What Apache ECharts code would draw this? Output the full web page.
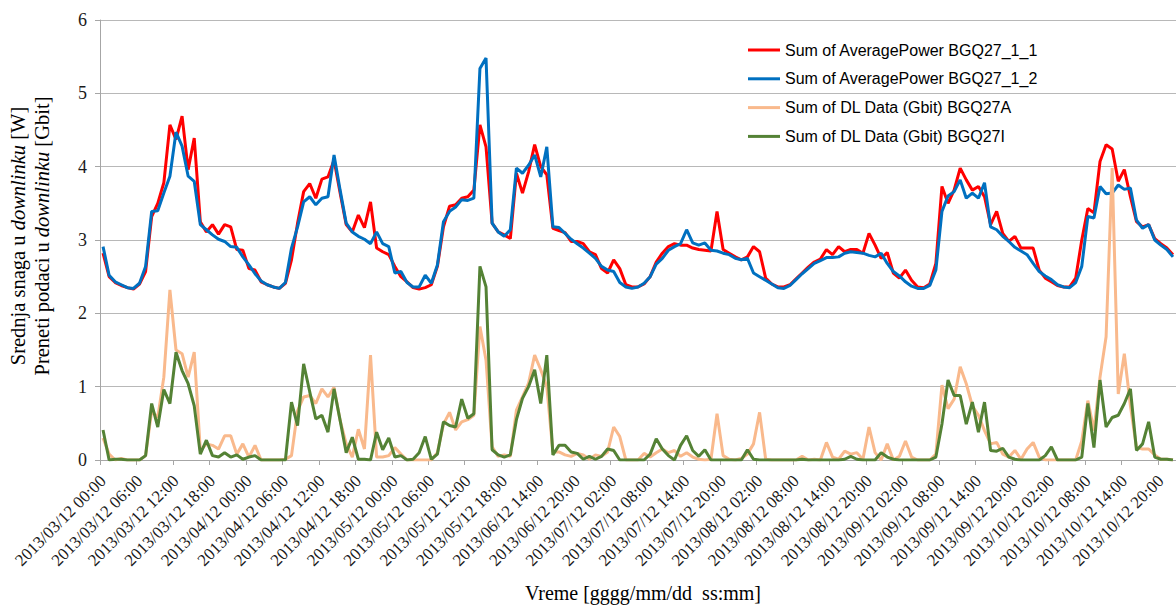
<!DOCTYPE html>
<html>
<head>
<meta charset="utf-8">
<script src="https://cdn.jsdelivr.net/npm/echarts@6/dist/echarts.min.js"></script>
<style>
html,body{margin:0;padding:0;background:#fff;}
#c{width:1176px;height:606px;}
</style>
</head>
<body>
<div id="c"></div>
<script>
// Category segments (hourly timestamps; data gap between 05/12 18:00 and 06/12 09:00)
const catSegments = [
  { year: 2013, day: 3, month: 12, hour: 0, count: 67 },
  { year: 2013, day: 6, month: 12, hour: 9, count: 110 }
];
function pad(n){ return (n < 10 ? '0' : '') + n; }
const categories = [];
catSegments.forEach(function(s){
  let d = s.day, h = s.hour;
  for (let k = 0; k < s.count; k++) {
    categories.push(s.year + '/' + pad(d) + '/' + s.month + ' ' + pad(h) + ':00');
    h++; if (h === 24) { h = 0; d++; }
  }
});

const yTicks = [0, 1, 2, 3, 4, 5, 6];

const power_1_1 = [
2.82,2.50,2.42,2.38,2.35,2.33,2.40,2.57,3.32,3.50,3.78,4.57,4.37,4.69,3.96,4.39,3.25,3.11,3.21,3.08,
3.21,3.18,2.87,2.86,2.61,2.59,2.43,2.39,2.36,2.34,2.41,2.73,3.23,3.66,3.77,3.57,3.83,3.86,4.09,3.64,
3.21,3.11,3.34,3.17,3.52,2.89,2.84,2.80,2.64,2.50,2.43,2.35,2.33,2.35,2.39,2.64,3.18,3.46,3.48,3.57,
3.59,3.68,4.57,4.27,3.23,3.11,3.07,3.02,3.91,3.64,3.93,4.30,4.00,3.89,3.16,3.13,3.10,2.98,2.98,2.95,
2.84,2.80,2.61,2.55,2.73,2.61,2.39,2.36,2.36,2.40,2.50,2.70,2.82,2.91,2.95,2.93,2.93,2.89,2.87,2.86,
2.85,3.39,2.87,2.82,2.77,2.73,2.77,2.91,2.84,2.48,2.40,2.36,2.36,2.39,2.47,2.55,2.63,2.70,2.74,2.87,
2.80,2.91,2.84,2.87,2.87,2.82,3.09,2.93,2.75,2.83,2.55,2.48,2.59,2.45,2.36,2.35,2.40,2.68,3.73,3.50,
3.68,3.98,3.82,3.68,3.73,3.59,3.21,3.39,3.09,2.98,3.05,2.89,2.89,2.89,2.59,2.48,2.43,2.38,2.36,2.36,
2.48,3.00,3.43,3.37,4.07,4.30,4.24,3.80,3.96,3.59,3.25,3.18,3.21,3.02,2.95,2.89,2.80
];

const power_1_2 = [
2.91,2.52,2.43,2.39,2.35,2.34,2.41,2.64,3.39,3.40,3.64,3.87,4.47,4.28,3.87,3.80,3.21,3.14,3.07,3.01,
2.98,2.91,2.90,2.77,2.66,2.54,2.44,2.39,2.36,2.34,2.42,2.89,3.18,3.52,3.59,3.48,3.57,3.59,4.16,3.68,
3.23,3.11,3.05,3.01,2.95,3.11,2.95,2.91,2.55,2.57,2.42,2.36,2.36,2.52,2.41,2.66,3.25,3.39,3.45,3.55,
3.54,3.57,5.34,5.48,3.23,3.11,3.05,3.14,3.98,3.91,4.02,4.16,3.86,4.27,3.18,3.17,3.09,3.01,2.95,2.89,
2.82,2.75,2.64,2.59,2.57,2.42,2.36,2.34,2.36,2.41,2.50,2.67,2.75,2.86,2.91,2.95,3.14,2.96,2.93,2.96,
2.86,2.85,2.82,2.80,2.75,2.73,2.75,2.55,2.50,2.45,2.40,2.35,2.34,2.38,2.46,2.54,2.61,2.68,2.72,2.76,
2.76,2.77,2.82,2.84,2.83,2.82,2.79,2.77,2.82,2.68,2.57,2.51,2.43,2.37,2.34,2.34,2.38,2.59,3.39,3.60,
3.66,3.82,3.57,3.64,3.57,3.78,3.18,3.14,3.05,2.98,2.90,2.85,2.80,2.68,2.57,2.51,2.46,2.39,2.36,2.35,
2.42,2.64,3.32,3.30,3.73,3.63,3.64,3.75,3.69,3.71,3.27,3.16,3.21,3.00,2.93,2.87,2.77
];

const dl_27A = [
0.30,0.08,0.00,0.02,0.00,0.00,0.00,0.06,0.67,0.58,1.13,2.32,1.50,1.45,1.13,1.47,0.13,0.22,0.20,0.15,
0.33,0.33,0.08,0.22,0.04,0.20,0.00,0.00,0.00,0.00,0.01,0.06,0.67,0.86,0.88,0.77,0.97,0.86,0.99,0.54,
0.22,0.04,0.42,0.15,1.43,0.04,0.04,0.06,0.17,0.08,0.00,0.00,0.00,0.00,0.00,0.10,0.49,0.65,0.41,0.52,
0.55,0.61,1.82,1.36,0.18,0.05,0.07,0.05,0.68,0.86,1.05,1.43,1.23,1.00,0.11,0.11,0.07,0.05,0.09,0.07,
0.01,0.07,0.05,0.11,0.45,0.32,0.00,0.00,0.00,0.09,0.04,0.10,0.15,0.10,0.13,0.05,0.10,0.04,0.01,0.00,
0.01,0.63,0.06,0.01,0.00,0.02,0.08,0.22,0.65,0.01,0.00,0.00,0.00,0.00,0.00,0.05,0.00,0.01,0.00,0.24,
0.04,0.01,0.12,0.08,0.10,0.01,0.45,0.10,0.00,0.22,0.00,0.05,0.26,0.04,0.00,0.00,0.00,0.08,1.02,0.70,
0.83,1.27,1.04,0.74,0.61,0.40,0.22,0.24,0.08,0.04,0.13,0.01,0.15,0.24,0.04,0.00,0.00,0.00,0.00,0.00,
0.00,0.26,0.81,0.40,1.13,1.68,3.98,0.90,1.45,0.74,0.17,0.15,0.15,0.07,0.01,0.01,0.00
];

const dl_27I = [
0.41,0.00,0.01,0.01,0.00,0.00,0.00,0.06,0.77,0.45,0.96,0.77,1.47,1.22,1.04,0.74,0.08,0.27,0.06,0.04,
0.10,0.04,0.07,0.01,0.04,0.06,0.00,0.00,0.00,0.00,0.00,0.79,0.47,1.31,0.93,0.56,0.61,0.38,0.97,0.54,
0.10,0.31,0.01,0.01,0.00,0.38,0.14,0.30,0.04,0.06,0.00,0.01,0.10,0.32,0.01,0.08,0.52,0.47,0.45,0.83,
0.57,0.63,2.64,2.36,0.14,0.07,0.04,0.07,0.55,0.84,1.00,1.23,0.77,1.43,0.07,0.20,0.20,0.11,0.09,0.01,
0.05,0.01,0.05,0.15,0.13,0.00,0.00,0.00,0.00,0.00,0.08,0.29,0.15,0.06,0.00,0.20,0.33,0.13,0.05,0.14,
0.00,0.00,0.00,0.00,0.00,0.00,0.14,0.01,0.00,0.00,0.00,0.00,0.00,0.00,0.00,0.01,0.00,0.00,0.00,0.00,
0.00,0.00,0.01,0.05,0.01,0.00,0.00,0.00,0.10,0.04,0.01,0.00,0.00,0.00,0.00,0.00,0.00,0.04,0.49,1.09,
0.88,0.88,0.49,0.79,0.38,0.79,0.13,0.12,0.16,0.04,0.01,0.00,0.00,0.00,0.00,0.06,0.18,0.00,0.00,0.00,
0.00,0.04,0.77,0.17,1.09,0.45,0.58,0.61,0.77,0.97,0.13,0.22,0.52,0.04,0.01,0.01,0.00
];

const seriesNames = [
  'Sum of AveragePower BGQ27_1_1',
  'Sum of AveragePower BGQ27_1_2',
  'Sum of DL Data (Gbit) BGQ27A',
  'Sum of DL Data (Gbit) BGQ27I'
];
const seriesColors = ['#ff0000', '#0070c0', '#f9b98c', '#548235'];
const seriesData = [power_1_1, power_1_2, dl_27A, dl_27I];

const chart = echarts.init(document.getElementById('c'), null, { renderer: 'svg' });
const serif = '"Liberation Serif", "Times New Roman", serif';
const sans = '"Liberation Sans", Arial, sans-serif';

chart.setOption({
  backgroundColor: '#ffffff',
  animation: false,
  grid: { left: 100, top: 20, width: 1076, bottom: 146, containLabel: false },
  legend: {
    orient: 'vertical',
    left: 748,
    top: 42,
    padding: 0,
    itemWidth: 32,
    itemHeight: 3,
    itemGap: 12.8,
    icon: 'rect',
    textStyle: { fontFamily: sans, fontSize: 16, color: '#000', lineHeight: 16 },
    data: seriesNames
  },
  xAxis: {
    type: 'category',
    data: categories,
    boundaryGap: true,
    axisLine: { show: true, lineStyle: { color: '#a6a6a6', width: 1 } },
    axisTick: { show: true, interval: 5, length: 5, lineStyle: { color: '#a6a6a6' } },
    axisLabel: { interval: 5, rotate: 45, margin: 18, fontFamily: serif, fontSize: 17, color: '#1a1a1a' },
    splitLine: { show: false }
  },
  yAxis: {
    type: 'value',
    min: yTicks[0],
    max: yTicks[yTicks.length - 1],
    interval: 1,
    axisLine: { show: true, lineStyle: { color: '#a6a6a6', width: 1 } },
    axisTick: { show: true, length: 5, lineStyle: { color: '#a6a6a6' } },
    axisLabel: { margin: 13, fontFamily: serif, fontSize: 18, color: '#1a1a1a' },
    splitLine: { show: true, lineStyle: { color: '#b8b8b8', width: 1.2 } }
  },
  graphic: [
    {
      type: 'text',
      x: 30, y: 236,
      rotation: Math.PI / 2,
      style: {
        text: '{a|Srednja snaga u }{i|downlinku}{a| [W]}\n{a|Preneti podaci u }{i|downlinku}{a| [Gbit]}',
        align: 'center',
        verticalAlign: 'middle',
        rich: {
          a: { fontFamily: serif, fontSize: 20.5, lineHeight: 24, fill: '#000' },
          i: { fontFamily: serif, fontSize: 20.5, lineHeight: 24, fontStyle: 'italic', fill: '#000' }
        }
      }
    },
    {
      type: 'text',
      x: 643, y: 593,
      style: {
        text: 'Vreme [gggg/mm/dd\u00a0 ss:mm]',
        align: 'center',
        verticalAlign: 'middle',
        fontFamily: serif, fontSize: 20, lineHeight: 22, fill: '#000'
      }
    }
  ],
  series: seriesNames.map(function(name, k){
    return {
      name: name,
      type: 'line',
      data: seriesData[k],
      symbol: 'none',
      smooth: false,
      lineStyle: { color: seriesColors[k], width: 3 },
      itemStyle: { color: seriesColors[k] },
      z: 2 + k
    };
  })
});
</script>
</body>
</html>
